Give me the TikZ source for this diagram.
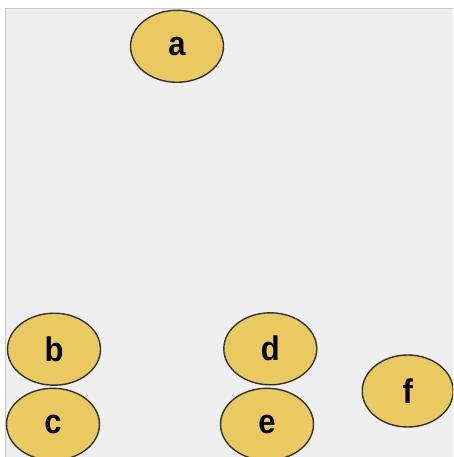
\documentclass[tikz,border=0pt]{standalone}
\usepackage{fontspec}
\setmainfont{Liberation Sans}
\usetikzlibrary{shapes.geometric}
\definecolor{bggray}{RGB}{239,239,239}
\definecolor{edgegray}{RGB}{200,200,200}
\definecolor{gold}{RGB}{234,201,96}
\definecolor{outline}{RGB}{51,51,51}
\tikzset{
  vertex/.style={ellipse, draw=outline, line width=1.4pt, fill=gold,
    minimum width=93pt, minimum height=72pt, inner sep=0pt,
    font=\fontsize{31}{31}\selectfont\bfseries, text=black}
}
\newcommand{\lbl}[1]{\scalebox{1}[1.1]{#1}}
\begin{document}
\begin{tikzpicture}[x=1pt,y=-1pt]
\useasboundingbox (0,0) rectangle (453,457);
\fill[white] (0,0) rectangle (453,457);
\fill[bggray] (5,8) rectangle (453,457);
\draw[edgegray, line width=1.2pt] (5.5,457) -- (5.5,8.5) -- (453,8.5);
\begin{scope}
\clip (0,0) rectangle (453,457);
\node[vertex] (a) at (177,46.3) {\lbl{a}};
\node[vertex] (b) at (54,349.2) {\lbl{b}};
\node[vertex] (c) at (53,424.3) {\lbl{c}};
\node[vertex] (d) at (270.3,348.8) {\lbl{d}};
\node[vertex] (e) at (267,424.3) {\lbl{e}};
\node[vertex, minimum width=91pt] (f) at (407.7,391) {\lbl{f}};
\end{scope}
\end{tikzpicture}
\end{document}
